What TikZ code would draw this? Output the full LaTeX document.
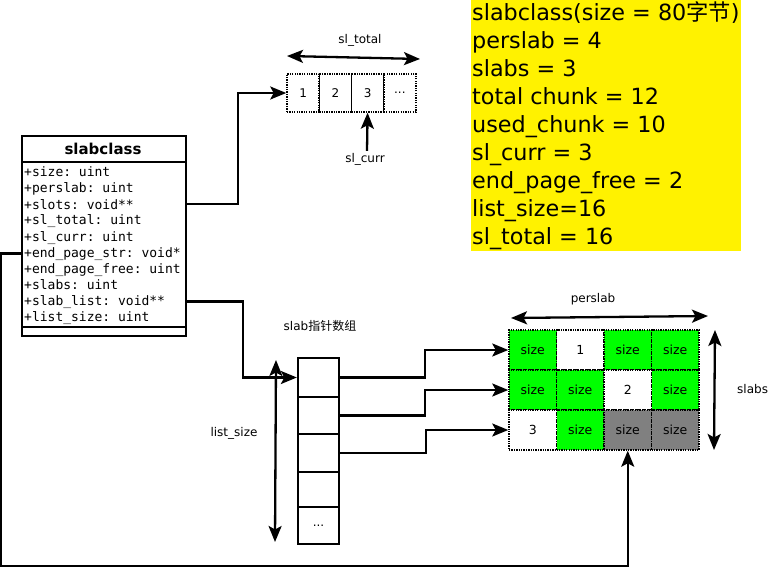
\documentclass[tikz,border=0pt]{standalone}
\usepackage{fontspec}
\setmainfont{DejaVu Sans}
\setmonofont{DejaVu Sans Mono}
\newfontfamily\cjk{Noto Sans CJK SC}
\usetikzlibrary{arrows.meta}
\definecolor{cgreen}{RGB}{0,255,0}
\definecolor{cgray}{RGB}{128,128,128}
\tikzset{tipa/.tip={Stealth[length=16pt,width=13pt,inset=3.5pt]}}
\begin{document}
\begin{tikzpicture}[x=1pt,y=-1pt,
  conn/.style={line width=2.3pt},
  arr/.style={conn,-tipa},
  darr/.style={conn,tipa-tipa},
  lbl/.style={font=\fontsize{12}{14}\selectfont,inner sep=0pt},
  big/.style={font=\fontsize{22.3}{26}\selectfont,anchor=base west,inner sep=0pt},
  fld/.style={font=\ttfamily\fontsize{13}{15}\selectfont,anchor=base west,inner sep=0pt},
  tcell/.style={draw,dash pattern=on 1.3pt off 1.1pt,line width=1.5pt,minimum width=32.25pt,minimum height=38pt,inner sep=0pt,font=\fontsize{12}{14}\selectfont},
  gcell/.style={draw,dash pattern=on 1.3pt off 1.1pt,line width=1.5pt,minimum width=47.5pt,minimum height=40pt,inner sep=0pt,font=\fontsize{12.5}{14}\selectfont},
  acell/.style={draw,line width=1.6pt,minimum width=41pt,inner sep=0pt,font=\fontsize{12}{14}\selectfont},
]
\useasboundingbox (0,0) rectangle (769,567);

% yellow info box
\fill[yellow] (471,0) rectangle (741,251);
\node[big] (y1) at (472,20.7) {slabclass(size = 80{\cjk 字节})};
\node[big] (y2) at (472,48.7) {perslab = 4};
\node[big] (y3) at (472,76.7) {slabs = 3};
\node[big] (y4) at (472,104.7) {total chunk = 12};
\node[big] (y5) at (472,132.7) {used\_chunk = 10};
\node[big] (y6) at (472,160.7) {sl\_curr = 3};
\node[big] (y7) at (472,188.7) {end\_page\_free = 2};
\node[big] (y8) at (472,216.7) {list\_size=16};
\node[big] (y9) at (472,244.7) {sl\_total = 16};

% slabclass UML box
\node[draw,line width=2.3pt,minimum width=164pt,minimum height=200pt,anchor=north west,inner sep=0pt] (cls) at (21,135) {};
\draw[line width=2.3pt] (21,162) -- (185,162);
\draw[line width=2.3pt] (21,327) -- (185,327);
\node[font=\bfseries\fontsize{15}{18}\selectfont,inner sep=0pt] (hdr) at (103,148.5) {slabclass};
\node[fld] (f1) at (24,177) {+size: uint};
\node[fld] (f2) at (24,193) {+perslab: uint};
\node[fld] (f3) at (24,209) {+slots: void**};
\node[fld] (f4) at (24,225) {+sl\_total: uint};
\node[fld] (f5) at (24,241) {+sl\_curr: uint};
\node[fld] (f6) at (24,257) {+end\_page\_str: void*};
\node[fld] (f7) at (24,273) {+end\_page\_free: uint};
\node[fld] (f8) at (24,289) {+slabs: uint};
\node[fld] (f9) at (24,305) {+slab\_list: void**};
\node[fld] (f10) at (24,321) {+list\_size: uint};

% top slots array
\node[tcell] (c1) at (303.1,93) {1};
\node[tcell] (c2) at (335.4,93) {2};
\node[tcell] (c3) at (367.6,93) {3};
\node[tcell] (c4) at (399.9,93) {...};
\coordinate (slt1) at (287,56);
\coordinate (slt2) at (420,59);
\draw[darr] (slt1) -- (slt2);
\node[lbl] (sltl) at (360,40) {sl\_total};
\node[lbl] (slcl) at (365,159) {sl\_curr};
\draw[arr] (slcl.north) ++(2,-2) -- (c3.south);

% slab pointer array
\node[lbl] (arrl) at (320,326) {slab{\cjk 指针数组}};
\node[acell,line width=2.3pt,minimum height=39pt] (a1) at (318.5,377.5) {};
\node[acell,line width=2.3pt,minimum height=37pt] (a2) at (318.5,415.5) {};
\node[acell,minimum height=38pt] (a3) at (318.5,453) {};
\node[acell,minimum height=35pt] (a4) at (318.5,489.5) {};
\node[acell,minimum height=37pt] (a5) at (318.5,525.5) {...};
\coordinate (ls1) at (276,360);
\coordinate (ls2) at (275,542);
\draw[darr] (ls1) -- (ls2);
\node[lbl] (lsl) at (234,433) {list\_size};

% slab grid
\node[gcell,fill=cgreen] (g11) at (532.75,350) {size};
\node[gcell,fill=white] (g12) at (580.25,350) {1};
\node[gcell,fill=cgreen] (g13) at (627.75,350) {size};
\node[gcell,fill=cgreen] (g14) at (675.25,350) {size};
\node[gcell,fill=cgreen] (g21) at (532.75,390) {size};
\node[gcell,fill=cgreen] (g22) at (580.25,390) {size};
\node[gcell,fill=white] (g23) at (627.75,390) {2};
\node[gcell,fill=cgreen] (g24) at (675.25,390) {size};
\node[gcell,fill=white] (g31) at (532.75,430) {3};
\node[gcell,fill=cgreen] (g32) at (580.25,430) {size};
\node[gcell,fill=cgray] (g33) at (627.75,430) {size};
\node[gcell,fill=cgray] (g34) at (675.25,430) {size};
\coordinate (ps1) at (511,318);
\coordinate (ps2) at (708,316);
\draw[darr] (ps1) -- (ps2);
\node[lbl] (psl) at (593,299) {perslab};
\coordinate (sb1) at (715,330);
\coordinate (sb2) at (714,450);
\draw[darr] (sb1) -- (sb2);
\node[lbl,anchor=west] (sbl) at (737,389) {slabs};

% connectors
\draw[arr] (f3 -| cls.east) -- ++(51,0) |- (c1.west);
\draw[arr] (f9 -| cls.east) -- ++(56,0) |- (a1.west);
\draw[arr] (a1.east) -- ++(85,0) |- (g11.west);
\draw[arr] (a2.east) -- ++(85,0) |- (g21.west);
\draw[arr] (a3.east) -- ++(86,0) |- (g31.west);
\draw[arr] (f6 -| cls.west) -| (1.3,566) -| (g33.south);
\end{tikzpicture}
\end{document}
